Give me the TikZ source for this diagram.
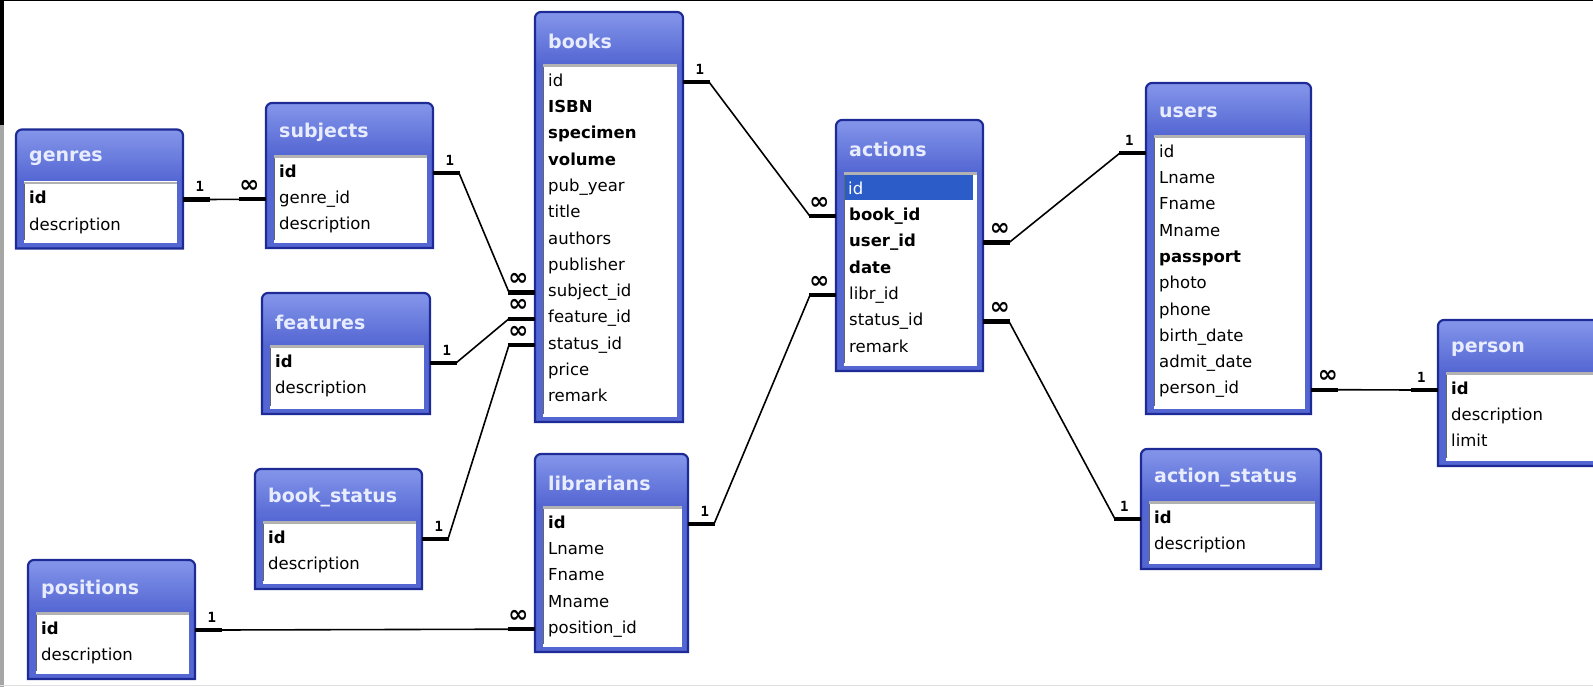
\documentclass[tikz,border=0pt]{standalone}
\usepackage{fontspec}
\setmainfont{DejaVu Sans}
\newfontfamily\cardfont{DejaVu Sans Mono}
\usepackage{tikz}
\usetikzlibrary{calc}

\definecolor{tblue}{RGB}{84,102,210}
\definecolor{hdlight}{RGB}{132,150,234}
\definecolor{tborder}{RGB}{30,42,150}
\definecolor{ttext}{RGB}{232,236,255}
\definecolor{selblue}{RGB}{44,92,200}

\tikzset{
  tbl/.style={rectangle, inner sep=0pt, outer sep=0pt},
  tframe/.style={draw=tborder, line width=2.2pt},
  ttl/.style={anchor=west, inner sep=0pt, text=ttext, font=\fontsize{19}{20}\selectfont\bfseries},
  fld/.style={anchor=west, inner sep=0pt, text height=12pt, text depth=3.5pt, font=\fontsize{16.5}{18}\selectfont},
  link/.style={line width=1.6pt},
  linkend/.style={line width=4.2pt},
  card/.style={inner sep=0pt, yshift=13pt, font=\bfseries},
}

\newcommand{\one}{{\cardfont\fontsize{14}{14}\selectfont 1}}
\newcommand{\many}{{\fontsize{24}{24}\selectfont ∞}}
\newcommand{\selrow}[1]{\hspace*{-4pt}{\setlength{\fboxsep}{0pt}\colorbox{selblue}{\makebox[128pt][l]{\rule[-6pt]{0pt}{25pt}\hspace{3pt}\color{white}#1}}}}

% name, x, y, width, height, title, fields
\newcommand{\dbtable}[7]{%
  \node[tbl, minimum width=#4pt, minimum height=#5pt, anchor=north west] (#1) at (#2,#3) {};
  \fill[tblue] (#1.south west) [rounded corners=6pt] -- (#1.north west) -- (#1.north east) [sharp corners] -- (#1.south east) -- cycle;
  \shade[top color=hdlight, bottom color=tblue] ($(#1.north west)+(0,52)$) [rounded corners=6pt] -- (#1.north west) -- (#1.north east) [sharp corners] -- ($(#1.north east)+(0,52)$) -- cycle;
  \fill[white] ($(#1.north west)+(8,52)$) rectangle ($(#1.south east)+(-6,-5)$);
  \draw[gray!60, line width=2.5pt] ($(#1.north west)+(8,53.5)$) -- ($(#1.north east)+(-6,53.5)$);
  \draw[black!60, line width=1pt] ($(#1.north west)+(8.5,55)$) -- ($(#1.south west)+(8.5,-8)$);
  \draw[tframe] (#1.south west) [rounded corners=6pt] -- (#1.north west) -- (#1.north east) [sharp corners] -- (#1.south east) -- cycle;
  \node[ttl] (#1-title) at ($(#1.north west)+(13,29)$) {#6};
  \foreach \f [count=\i] in {#7}
    \node[fld] (#1-\i) at ($(#1.north west)+(13,43.7+26.3*\i)$) {\f};
}

% from, to, card at from, card at to
\newcommand{\relate}[4]{%
  \draw[link] ($#1+(26,0)$) -- ($#2+(-26,0)$);
  \draw[linkend] #1 -- ++(27,0) node[card, pos=0.62] {#3};
  \draw[linkend] #2 -- ++(-27,0) node[card, pos=0.62] {#4};
}

\begin{document}
\begin{tikzpicture}[x=1pt, y=-1pt]
\useasboundingbox (0,0) rectangle (1593,687);
\clip (0,0) rectangle (1593,687);
\fill[white] (0,0) rectangle (1593,687);
\fill[black] (0,0) rectangle (1593,1.5);
\fill[black] (0,0) rectangle (4,125);
\fill[gray!70] (0,125) rectangle (4,687);
\draw[gray!25, line width=1.5pt] (0,685.5) -- (1593,685.5);

\dbtable{genres}{16}{129.5}{167}{119}{genres}{\textbf{id}, description}
\dbtable{subjects}{266}{103}{167}{145}{subjects}{\textbf{id}, genre\_id, description}
\dbtable{features}{262}{293}{168}{121}{features}{\textbf{id}, description}
\dbtable{bookstatus}{255}{469}{167}{120}{book\_status}{\textbf{id}, description}
\dbtable{positions}{28}{560}{167}{119}{positions}{\textbf{id}, description}
\dbtable{books}{535}{12}{148}{410}{books}{id, \textbf{ISBN}, \textbf{specimen}, \textbf{volume}, pub\_year, title, authors, publisher, subject\_id, feature\_id, status\_id, price, remark}
\dbtable{librarians}{535}{454}{153}{198}{librarians}{\textbf{id}, Lname, Fname, Mname, position\_id}
\dbtable{actions}{836}{120}{147}{251}{actions}{\selrow{id}, \textbf{book\_id}, \textbf{user\_id}, \textbf{date}, libr\_id, status\_id, remark}
\dbtable{users}{1146}{83}{165}{331}{users}{id, Lname, Fname, Mname, \textbf{passport}, photo, phone, birth\_date, admit\_date, person\_id}
\dbtable{actionstatus}{1141}{449}{180}{120}{action\_status}{\textbf{id}, description}
\dbtable{person}{1438}{320}{200}{146}{person}{\textbf{id}, description, limit}

\relate{(genres.east |- genres-1)}{(subjects.west |- subjects-2)}{\one}{\many}
\relate{(subjects.east |- subjects-1)}{(books.west |- books-9)}{\one}{\many}
\relate{(features.east |- features-1)}{(books.west |- books-10)}{\one}{\many}
\relate{(bookstatus.east |- bookstatus-1)}{(books.west |- books-11)}{\one}{\many}
\relate{(positions.east |- positions-1)}{(librarians.west |- librarians-5)}{\one}{\many}
\relate{(books.east |- books-1)}{(actions.west |- actions-2)}{\one}{\many}
\relate{(librarians.east |- librarians-1)}{(actions.west |- actions-5)}{\one}{\many}
\relate{(actions.east |- actions-3)}{(users.west |- users-1)}{\many}{\one}
\relate{(actions.east |- actions-6)}{(actionstatus.west |- actionstatus-1)}{\many}{\one}
\relate{(users.east |- users-10)}{(person.west |- person-1)}{\many}{\one}
\end{tikzpicture}
\end{document}
